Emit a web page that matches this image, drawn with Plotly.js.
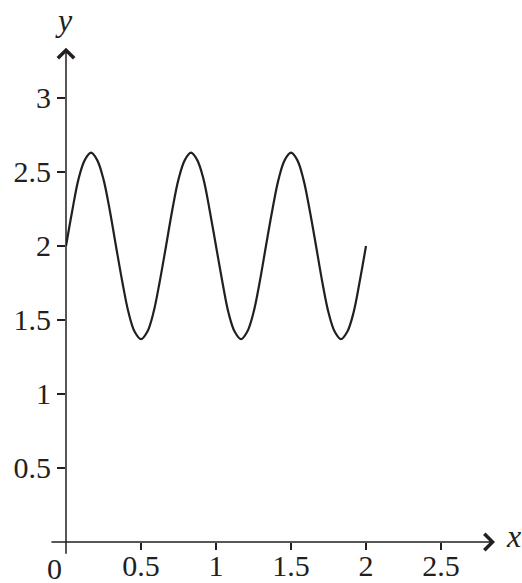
<!DOCTYPE html>
<html>
<head>
<meta charset="utf-8">
<script src="https://cdn.plot.ly/plotly-3.0.1.min.js"></script>
<style>html,body{margin:0;padding:0;background:#fff;}#chart{width:522px;height:583px;}</style>
</head>
<body>
<div id="chart"></div>
<script>
// Curve points
const xValues = [0, 0.042, 0.083, 0.125, 0.167, 0.208, 0.25, 0.292, 0.333, 0.375, 0.417, 0.458, 0.5,
  0.542, 0.583, 0.625, 0.667, 0.708, 0.75, 0.792, 0.833, 0.875, 0.917, 0.958, 1,
  1.042, 1.083, 1.125, 1.167, 1.208, 1.25, 1.292, 1.333, 1.375, 1.417, 1.458, 1.5,
  1.542, 1.583, 1.625, 1.667, 1.708, 1.75, 1.792, 1.833, 1.875, 1.917, 1.958, 2];
const yValues = [2, 2.24, 2.45, 2.58, 2.63, 2.58, 2.45, 2.24, 2, 1.76, 1.55, 1.42, 1.37, 1.42, 1.55, 1.76, 2,
  2.24, 2.45, 2.58, 2.63, 2.58, 2.45, 2.24, 2, 1.76, 1.55, 1.42, 1.37, 1.42, 1.55, 1.76, 2,
  2.24, 2.45, 2.58, 2.63, 2.58, 2.45, 2.24, 2, 1.76, 1.55, 1.42, 1.37, 1.42, 1.55, 1.76, 2];
const xTickVals = [0.5, 1, 1.5, 2, 2.5];
const xTickText = ['0.5', '1', '1.5', '2', '2.5'];
const yTickVals = [0.5, 1, 1.5, 2, 2.5, 3];
const yTickText = ['0.5', '1', '1.5', '2', '2.5', '3'];
const originLabel = '0';
const xAxisLabel = 'x';
const yAxisLabel = 'y';

const ink = '#231f20';
const fam = '"Liberation Serif", "Times New Roman", serif';
const font = {family: fam, size: 30, color: ink};

const trace = {
  x: xValues, y: yValues, type: 'scatter', mode: 'lines',
  line: {color: ink, width: 2.2, shape: 'spline', smoothing: 1},
  hoverinfo: 'skip', cliponaxis: false
};

const layout = {
  width: 522, height: 583,
  margin: {l: 66, r: 21, t: 46, b: 41, pad: 0},
  paper_bgcolor: '#fff', plot_bgcolor: 'rgba(0,0,0,0)',
  showlegend: false,
  font: font,
  xaxis: {
    range: [0, 2.9], showgrid: false, zeroline: false, showline: false,
    tickmode: 'array', tickvals: xTickVals, ticktext: xTickText,
    ticks: 'outside', ticklen: 7, tickwidth: 1.3, tickcolor: ink,
    ticklabelstandoff: -10,
    tickfont: font, fixedrange: true
  },
  yaxis: {
    range: [0, 3.351], showgrid: false, zeroline: false, showline: false,
    tickmode: 'array', tickvals: yTickVals, ticktext: yTickText,
    ticks: 'outside', ticklen: 8, tickwidth: 1.3, tickcolor: ink,
    tickfont: font, fixedrange: true
  },
  annotations: [
    {x: 2.86, y: 0, ax: -0.107, ay: 0, xref: 'x', yref: 'y', axref: 'x', ayref: 'y',
     text: '', showarrow: true, arrowhead: 4, arrowsize: 2.1, arrowwidth: 1.5, arrowcolor: ink},
    {x: 0, y: 3.34, ax: 0, ay: -0.09, xref: 'x', yref: 'y', axref: 'x', ayref: 'y',
     text: '', showarrow: true, arrowhead: 4, arrowsize: 2.1, arrowwidth: 1.5, arrowcolor: ink},
    {x: -0.0253, y: -0.054, xref: 'paper', yref: 'paper', text: originLabel, showarrow: false,
     xanchor: 'center', yanchor: 'middle', font: font},
    {x: 1.007, y: 0.012, xref: 'paper', yref: 'paper', text: '<i>' + xAxisLabel + '</i>', showarrow: false,
     xanchor: 'left', yanchor: 'middle', font: {family: fam, size: 32, color: ink}},
    {x: -0.005, y: 1.052, xref: 'paper', yref: 'paper', text: '<i>' + yAxisLabel + '</i>', showarrow: false,
     xanchor: 'center', yanchor: 'middle', font: {family: fam, size: 32, color: ink}}
  ]
};

Plotly.newPlot('chart', [trace], layout, {displayModeBar: false, staticPlot: true});
</script>
</body>
</html>
